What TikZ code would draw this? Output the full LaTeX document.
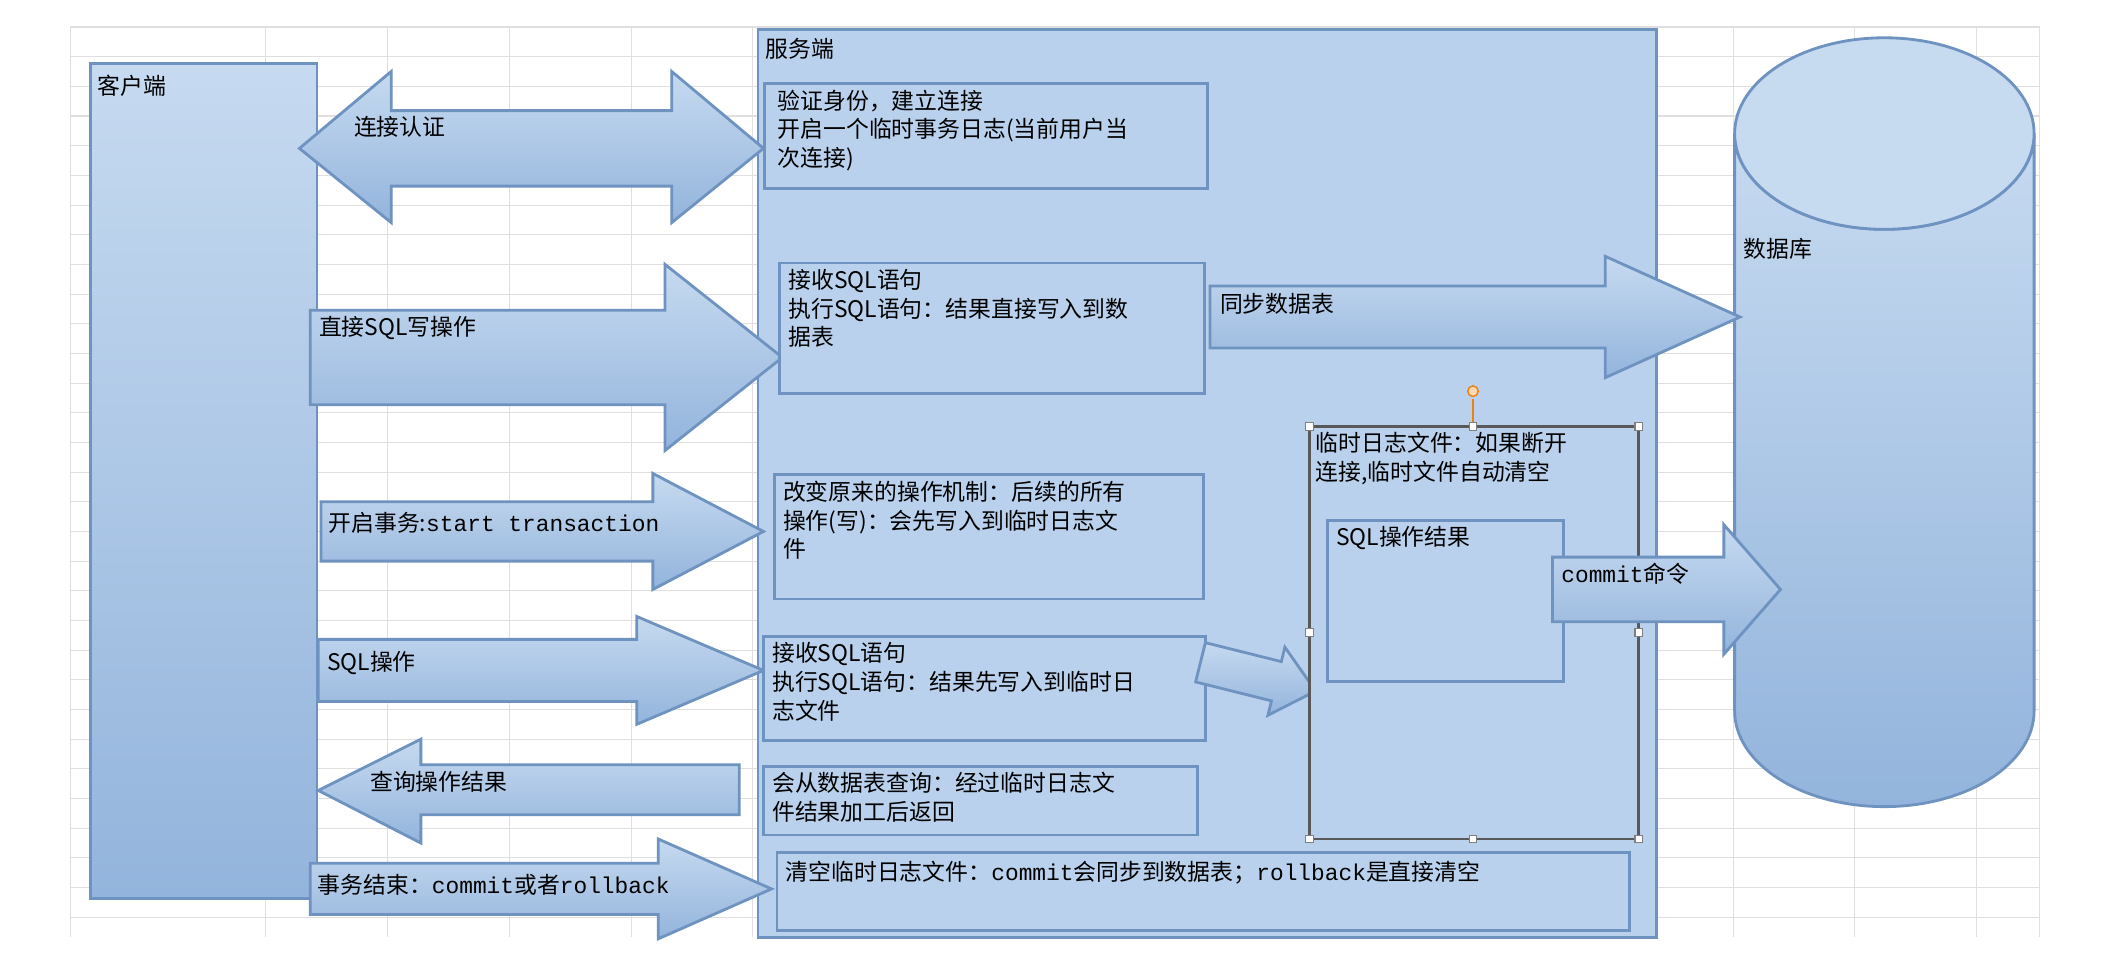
\documentclass[tikz,border=0pt]{standalone}
\usepackage{fontspec}
\setmainfont{Noto Sans CJK SC}
\newfontfamily\monof{Liberation Mono}
\definecolor{bd}{HTML}{6F93C0}
\definecolor{tc}{HTML}{C6DAF0}
\definecolor{bc}{HTML}{93B4DC}
\definecolor{bx}{HTML}{B9D1EC}
\tikzset{
 ar/.style={draw=bd,line width=0.8pt,top color=tc,bottom color=bc},
 bxs/.style={draw=bd,line width=0.8pt,fill=bx},
 tx/.style={anchor=north west,inner sep=0pt,font=\fontsize{6.5pt}{8.2pt}\selectfont,align=left},
 hd/.style={draw=gray,fill=white,line width=0.3pt,minimum size=2.2pt,inner sep=0pt}
}
\newcommand\rarr[6]{\draw[ar] (#1,#4-#5)--(#2,#4-#5)--(#2,#4-#6)--(#3,#4)--(#2,#4+#6)--(#2,#4+#5)--(#1,#4+#5)--cycle;}
\begin{document}
\begin{tikzpicture}[x=0.01349cm,y=-0.01349cm]
\useasboundingbox (0,0) rectangle (1568,712);
\fill[white] (0,0) rectangle (1568,712);
% grid
\foreach \y in {20,42,...,700} \draw[gray!25,line width=0.3pt] (52,\y)--(1512,\y);
\foreach \x in {52,197,287,378,468,558,648,738,828,918,1008,1098,1188,1285,1375,1465,1512} \draw[gray!25,line width=0.3pt] (\x,20)--(\x,695);
% client
\draw[ar] (67,47) rectangle (235,666);
\node[tx] (cl) at (72,55) {客户端};
% server
\draw[bxs] (562,22) rectangle (1228,695);
\node[tx] (sv) at (567,28) {服务端};
% database
\draw[ar] (1286,99) -- (1286,527) arc[start angle=180,end angle=0,x radius=111,y radius=71] -- (1508,99) arc[start angle=0,end angle=180,x radius=111,y radius=71];
\draw[bd,line width=0.8pt,fill=tc] (1397,99) ellipse[x radius=111,y radius=71];
\node[tx] (db) at (1292,176) {数据库};
% double arrow
\draw[ar] (222,110)--(290,53)--(290,82)--(498,82)--(498,53)--(566,110)--(498,165)--(498,138)--(290,138)--(290,165)--cycle;
\node[tx] (a1) at (262,86) {连接认证};
\draw[bxs] (567,62) rectangle (895,140);
\node[tx] (b1) at (576,66) {验证身份，建立连接\\开启一个临时事务日志(当前用户当\\次连接)};
% write
\rarr{230}{493}{580}{265}{35}{69}
\node[tx] (a2) at (236,234) {直接SQL写操作};
\draw[bxs] (578,195) rectangle (893,292);
\node[tx] (b2) at (584,199) {接收SQL语句\\执行SQL语句：结果直接写入到数\\据表};
\rarr{897}{1190}{1290}{235}{23}{45}
\node[tx] (a3) at (904,217) {同步数据表};
% transaction
\rarr{238}{484}{566}{394}{22}{43}
\node[tx] (a4) at (243,379) {开启事务:{\monof start transaction}};
\draw[bxs] (574,352) rectangle (892,444);
\node[tx] (b3) at (580,356) {改变原来的操作机制：后续的所有\\操作(写)：会先写入到临时日志文\\件};
% sql op
\rarr{236}{472}{566}{497}{23}{40}
\node[tx] (a5) at (242,482) {SQL操作};
\draw[bxs] (566,472) rectangle (894,549);
\node[tx] (b4) at (572,476) {接收SQL语句\\执行SQL语句：结果先写入到临时日\\志文件};
% small arrow
\begin{scope}[shift={(890,491)},rotate=-14]
\draw[ar] (0,-15)--(58,-15)--(58,-26)--(88,0)--(58,26)--(58,15)--(0,15)--cycle;
\end{scope}
% query
\draw[ar] (236,586)--(312,548)--(312,567)--(548,567)--(548,604)--(312,604)--(312,625)--cycle;
\node[tx] (a6) at (274,571) {查询操作结果};
\draw[bxs] (566,568) rectangle (888,619);
\node[tx] (b5) at (572,572) {会从数据表查询：经过临时日志文\\件结果加工后返回};
% end
\rarr{230}{488}{572}{659}{19}{37}
\node[tx] (a7) at (235,648) {事务结束：{\monof commit}或者{\monof rollback}};
\draw[bxs] (576,632) rectangle (1208,690);
\node[tx] (b6) at (582,638) {清空临时日志文件：{\monof commit}会同步到数据表；{\monof rollback}是直接清空};
% temp log
\draw[bxs,draw=gray!70!black] (971,316) rectangle (1215,622);
\node[tx] (t1) at (975,320) {临时日志文件：如果断开\\连接,临时文件自动清空};
\draw[bxs] (984,386) rectangle (1159,505);
\node[tx] (t2) at (990,390) {SQL操作结果};
\rarr{1151}{1278}{1320}{437}{24}{48}
\node[tx] (a8) at (1157,417) {{\monof commit}命令};
% handles
\draw[orange!70!brown,line width=0.5pt] (1092,316)--(1092,296);
\node[draw=orange!70!brown,fill=orange!30,circle,minimum size=3pt,inner sep=0pt] (rh) at (1092,290) {};
\foreach \p in {(971,316),(1092,316),(1215,316),(971,469),(1215,469),(971,622),(1092,622),(1215,622)} \node[hd] at \p {};
\end{tikzpicture}
\end{document}
